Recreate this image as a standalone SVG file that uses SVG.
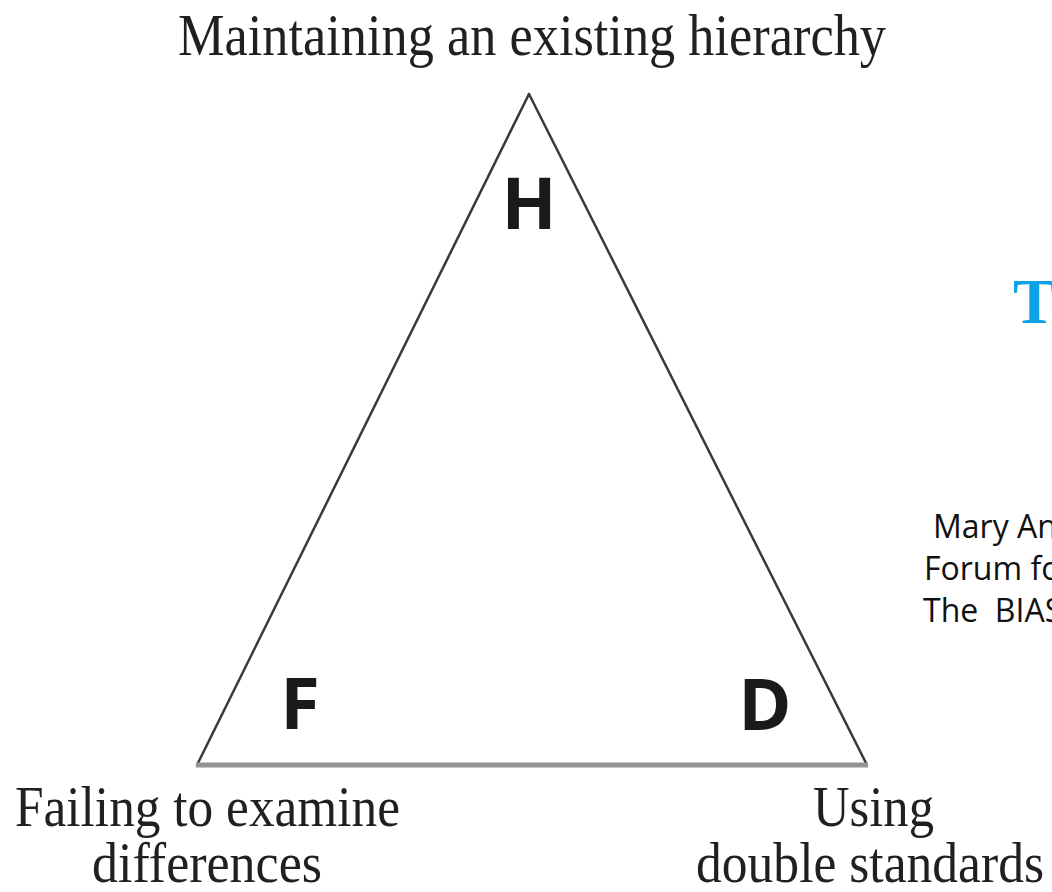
<svg xmlns="http://www.w3.org/2000/svg" width="1052" height="892" viewBox="0 0 1052 892">
<style>
.serif{font-family:"Liberation Serif","Times New Roman",serif;font-size:60px;fill:#231f20}
.serif2{font-family:"Liberation Serif","Times New Roman",serif;font-size:56px;fill:#231f20}
.letter{font-family:"Open Sans","Liberation Sans",sans-serif;font-weight:bold;font-size:72px;fill:#1a1a1a;text-anchor:middle}
.side{fill:none;stroke:#3a3a3a;stroke-width:2.5;stroke-linecap:round}
.base{fill:none;stroke:#939393;stroke-width:5}
.note{font-family:"Open Sans","Liberation Sans",sans-serif;font-size:32px;fill:#111}
.blue{font-family:"Liberation Serif","Times New Roman",serif;font-weight:bold;font-size:64px;fill:#0ba3e6}
</style>
<rect width="1052" height="892" fill="#fff"/>
<g id="connectors">
<line class="side" x1="197" y1="765" x2="529" y2="94"/>
<line class="side" x1="529" y1="94" x2="867" y2="765"/>
<line class="base" x1="196" y1="765" x2="868" y2="765"/>
</g>
<g id="node-H">
<text class="letter" x="529" y="229">H</text>
<text class="serif" x="178" y="55" textLength="708" lengthAdjust="spacingAndGlyphs">Maintaining an existing hierarchy</text>
</g>
<g id="node-F">
<text class="letter" x="300" y="729">F</text>
<text class="serif2" x="15" y="826" textLength="385" lengthAdjust="spacingAndGlyphs">Failing to examine</text>
<text class="serif2" x="92" y="882" textLength="230" lengthAdjust="spacingAndGlyphs">differences</text>
</g>
<g id="node-D">
<text class="letter" x="765" y="730">D</text>
<text class="serif2" x="813" y="826" textLength="121" lengthAdjust="spacingAndGlyphs">Using</text>
<text class="serif2" x="696" y="882" textLength="348" lengthAdjust="spacingAndGlyphs">double standards</text>
</g>
<g id="side-text">
<text class="blue" x="1013" y="323">T</text>
<text class="note" x="933" y="538">Mary An</text>
<text class="note" x="924" y="580">Forum fo</text>
<text class="note" x="923" y="622" xml:space="preserve">The  BIAS</text>
</g>
</svg>
